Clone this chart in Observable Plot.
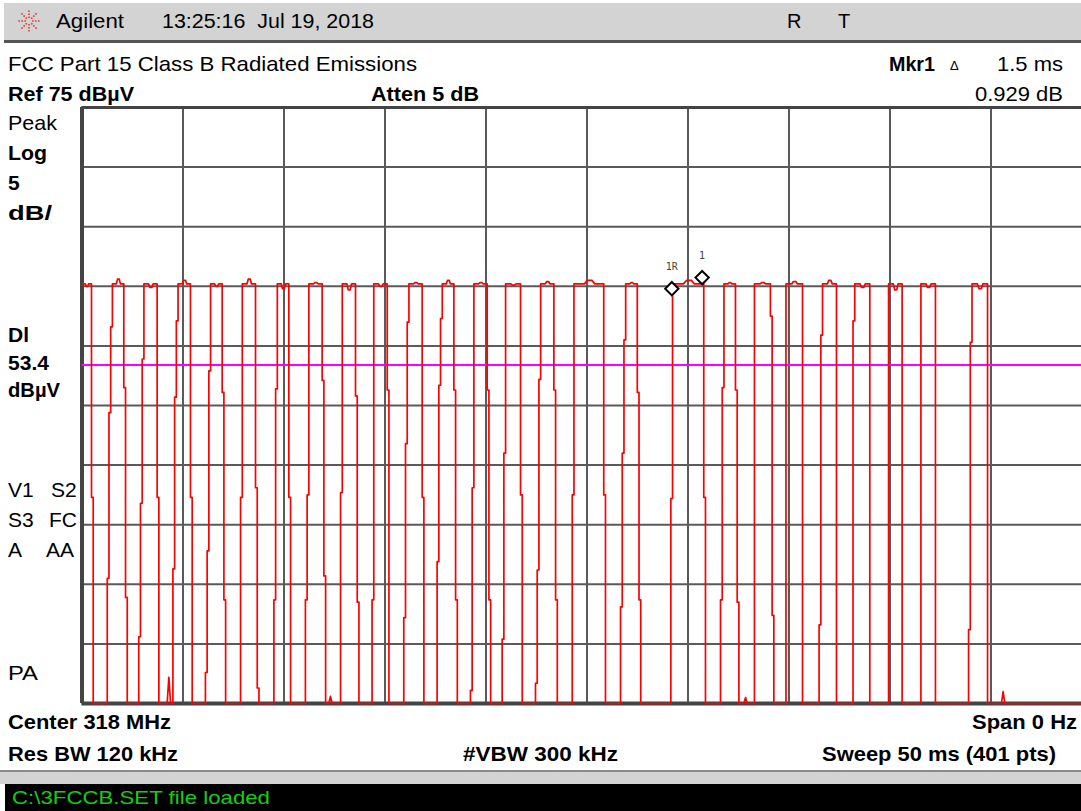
<!DOCTYPE html>
<html><head><meta charset="utf-8">
<script src="https://cdn.jsdelivr.net/npm/d3@7"></script>
<script src="https://cdn.jsdelivr.net/npm/@observablehq/plot@0.6"></script>
<style>
html,body{margin:0;padding:0;background:#fff;overflow:hidden;width:1081px;height:811px}
#page{position:relative;width:1081px;height:811px;overflow:hidden;font-family:"Liberation Sans",Arial,sans-serif;color:#000}
.t{position:absolute;white-space:pre;line-height:1}
#topbar{position:absolute;left:4px;top:3px;width:1077px;height:37px;background:#d3d3d3;border-bottom:3px solid #555}
#band{position:absolute;left:0;top:770px;width:1081px;height:12px;background:#d3d3d3;border-top:2px solid #8a8a8a}
#status{position:absolute;left:5px;top:784px;width:1076px;height:27px;background:#000}
#chart{position:absolute;left:0;top:104px;width:1092px}
#chart svg{max-width:none}
</style></head><body><div id="page">
<div id="topbar"></div>
<svg style="position:absolute;left:15px;top:7px" width="28" height="28" viewBox="-14 -14 28 28">
  <g stroke="#e8363a" stroke-width="1.6" stroke-dasharray="1.6 1.4" fill="none">
    <line x1="0" y1="-3" x2="0" y2="-12"/><line x1="0" y1="3" x2="0" y2="12"/>
    <line x1="-3" y1="0" x2="-12" y2="0"/><line x1="3" y1="0" x2="12" y2="0"/>
    <line x1="2.2" y1="-2.2" x2="8.5" y2="-8.5"/><line x1="-2.2" y1="2.2" x2="-8.5" y2="8.5"/>
    <line x1="-2.2" y1="-2.2" x2="-8.5" y2="-8.5"/><line x1="2.2" y1="2.2" x2="8.5" y2="8.5"/>
  </g>
</svg>
<div id="band"></div>
<div id="status"></div>
<div id="chart"></div>
</div>
<script>
// ---------------- data ----------------
const sweepMs = 50;            // time span (ms)
const sweepPoints = 401;
const refLevel = 75;           // dBµV, top of graticule
const dbPerDiv = 5;
const floorLevel = 25;         // bottom of graticule
const displayLine = 53.4;      // dBµV
const topLevel = 60.2;         // plateau of the pulses (dBµV)
const xTicks = [0, 5, 10, 15, 20, 25, 30, 35, 40, 45, 50];
const yTicks = [25, 30, 35, 40, 45, 50, 55, 60, 65, 70, 75];

// pulses: time (ms) the rising edge leaves the floor, time the falling edge leaves the top
const riseTime = [null, 1.25, 2.81, 4.50, 6.11, 7.85, 9.50, 11.06, 12.80, 14.36, 15.93, 17.58, 19.23,
  20.80, 22.45, 24.27, 26.66, 29.15, 31.61, 33.29, 34.85, 36.49, 38.17, 39.93, 41.53, 43.89];
const fallTime = [0.47, 2.07, 3.72, 5.37, 6.94, 8.59, 10.24, 11.89, 13.54, 15.11, 16.84, 18.41, 20.06,
  21.71, 23.36, 25.83, 27.49, 30.78, 32.35, 34.08, 35.67, 37.35, 39.00, 40.60, 42.25, 44.83];
// intermediate levels (dBµV) seen on each edge
const riseSteps = [[], [35.5, 49.4, 56.6], [30.6, 41.8, 53.9], [36.3, 50.7, 57.1], [27.6, 37.8, 52.9],
  [42.3], [33.7, 51.4], [33.7, 42.5], [42.7], [33.7], [32.2, 46.8, 57.0], [36.9, 51.7, 57.3],
  [26.1, 43.1], [30.4, 46.0], [26.7, 36.2, 52.2], [42.5], [33.1, 46.0, 55.5], [42.2], [33.7, 51.5],
  [], [], [31.6, 55.9], [57.1], [], [], [31.2, 55.3]];
const fallSteps = [[42.3], [51.5, 33.9], [42.3], [42.3], [51.1, 33.7], [43.1, 26.3], [42.3],
  [52.1, 35.7], [50.8, 33.5], [51.3], [42.3], [51.3, 33.7], [51.3, 33.7], [42.5], [51.3, 33.7],
  [42.5], [51.1, 33.7], [42.3], [51.3, 33.5], [57.5, 32.4], [], [], [], [], [], []];
// small bump / dip on each plateau
const topMid = [60.0, 60.6, 59.9, 60.5, 60.0, 60.6, 59.8, 60.3, 59.7, 60.0, 60.3, 60.5, 60.3,
  60.1, 60.4, 60.5, 60.3, 60.5, 60.3, 60.3, 60.4, 60.5, 59.9, 59.7, 59.9, 59.8];
// small noise spikes on the floor
const spikeTime = [4.30, 12.30, 32.85, 45.60];
const spikeLevel = [27.2, 25.6, 25.5, 26.0];
// markers
const markerName = ["1R", "1"];
const markerTime = [29.2, 30.7];
const markerLevel = [59.8, 60.73];

// ---------------- build the trace ----------------
const jog = 0.085; // drawn width of one step between adjacent samples (ms)
const trace = [];
for (let i = 0; i < fallTime.length; i++) {
  let ts;
  if (riseTime[i] === null) { trace.push([0, topLevel]); ts = 0; }
  else {
    let t = riseTime[i];
    trace.push([t, floorLevel]);
    for (const L of riseSteps[i]) { trace.push([t, L]); t += jog; trace.push([t, L]); }
    trace.push([t, topLevel]); ts = t;
  }
  const f = fallTime[i], w = f - ts;
  trace.push([ts + w * 0.35, topLevel], [ts + w * 0.45, topMid[i]], [ts + w * 0.6, topMid[i]], [ts + w * 0.7, topLevel]);
  trace.push([f, topLevel]);
  let u = f;
  for (const L of fallSteps[i]) { trace.push([u, L]); u += jog; trace.push([u, L]); }
  trace.push([u, floorLevel]);
  const next = i + 1 < riseTime.length ? riseTime[i + 1] : sweepMs;
  spikeTime.forEach((s, k) => {
    if (s > u && s < next) trace.push([s - jog, floorLevel], [s, spikeLevel[k]], [s + jog, floorLevel]);
  });
}
trace.push([sweepMs, floorLevel]);

const markers = markerName.map((n, i) => ({name: n, t: markerTime[i], v: markerLevel[i]}));

const chart = Plot.plot({
  width: 1092, height: 602,
  marginTop: 3, marginBottom: 3, marginLeft: 81.5, marginRight: 0.5,
  x: {domain: [0, sweepMs], axis: null},
  y: {domain: [floorLevel, refLevel], axis: null},
  style: {background: "transparent", overflow: "visible", maxWidth: "none"},
  marks: [
    Plot.ruleY(yTicks, {stroke: "#5a5a5a", strokeWidth: 2}),
    Plot.ruleX(xTicks, {stroke: "#5a5a5a", strokeWidth: 2}),
    Plot.ruleX([0], {stroke: "#444", strokeWidth: 4}),
    Plot.ruleY([floorLevel], {stroke: "#444", strokeWidth: 4}),
    Plot.ruleY([refLevel], {stroke: "#444", strokeWidth: 3}),
    Plot.ruleY([displayLine], {stroke: "#ff00ff", strokeWidth: 2}),
    Plot.line(trace, {x: d => d[0], y: d => d[1], stroke: "#ff0000", strokeWidth: 1.7}),
    Plot.dot(markers, {x: "t", y: "v", symbol: "diamond2", r: 6, stroke: "#000", strokeWidth: 2, fill: "#fff"}),
    Plot.text(markers, {x: "t", y: "v", text: "name", dy: -22, fontSize: 10, fontFamily: "DejaVu Sans Mono", fill: "#444"})
  ]
});
document.getElementById("chart").appendChild(chart);

// ---------------- text ----------------
const page = document.getElementById("page");
function txt(s, x, baseline, opt = {}) {
  const size = opt.size || 21;
  const el = document.createElement("div");
  el.className = "t";
  el.textContent = s;
  el.style.fontSize = size + "px";
  el.style.fontWeight = opt.bold ? "bold" : "normal";
  if (opt.color) el.style.color = opt.color;
  el.style.top = (baseline - 0.8465 * size) + "px";
  page.appendChild(el);
  const w0 = el.getBoundingClientRect().width;
  const w = opt.width || w0;
  if (opt.width) {
    el.style.transformOrigin = "0 0";
    el.style.transform = `scaleX(${opt.width / w0})`;
  }
  el.style.left = (opt.right ? x - w : x) + "px";
  return el;
}
txt("Agilent", 56, 28, {size: 20, width: 68});
txt("13:25:16  Jul 19, 2018", 162, 28, {size: 20, width: 212});
txt("R", 787, 28, {size: 20});
txt("T", 838, 28, {size: 20});
txt("FCC Part 15 Class B Radiated Emissions", 8, 71, {width: 409});
txt("Mkr1", 889, 71, {bold: true, width: 46});
txt("\u0394", 950, 70, {size: 13});
txt("1.5 ms", 1063, 71, {right: true, width: 66});
txt(`Ref ${refLevel} dB\u00b5V`, 8, 101, {bold: true, width: 126});
txt("Atten 5 dB", 371, 101, {bold: true, width: 108});
txt("0.929 dB", 1063, 101, {right: true, width: 88});
txt("Peak", 8, 130, {width: 49});
txt("Log", 8, 160, {bold: true, width: 39});
txt(String(dbPerDiv), 8, 190, {bold: true});
txt("dB/", 8, 220, {bold: true, width: 44});
txt("Dl", 8, 342, {bold: true});
txt(String(displayLine), 8, 370, {bold: true, width: 41});
txt("dB\u00b5V", 8, 397, {bold: true, width: 52});
txt("V1", 8, 497); txt("S2", 51, 497);
txt("S3", 8, 527); txt("FC", 49, 527);
txt("A", 8, 557); txt("AA", 46, 557);
txt("PA", 8, 680, {width: 30});
txt("Center 318 MHz", 8, 729, {bold: true, width: 163});
txt("Span 0 Hz", 1077, 729, {bold: true, right: true, width: 105});
txt("Res BW 120 kHz", 8, 761, {bold: true, width: 170});
txt("#VBW 300 kHz", 463, 761, {bold: true, width: 155});
txt(`Sweep ${sweepMs} ms (${sweepPoints} pts)`, 1056, 761, {bold: true, right: true, width: 234});
txt("C:\\3FCCB.SET file loaded", 12, 804, {size: 19, color: "#10d010", width: 258});
</script>
</body></html>
